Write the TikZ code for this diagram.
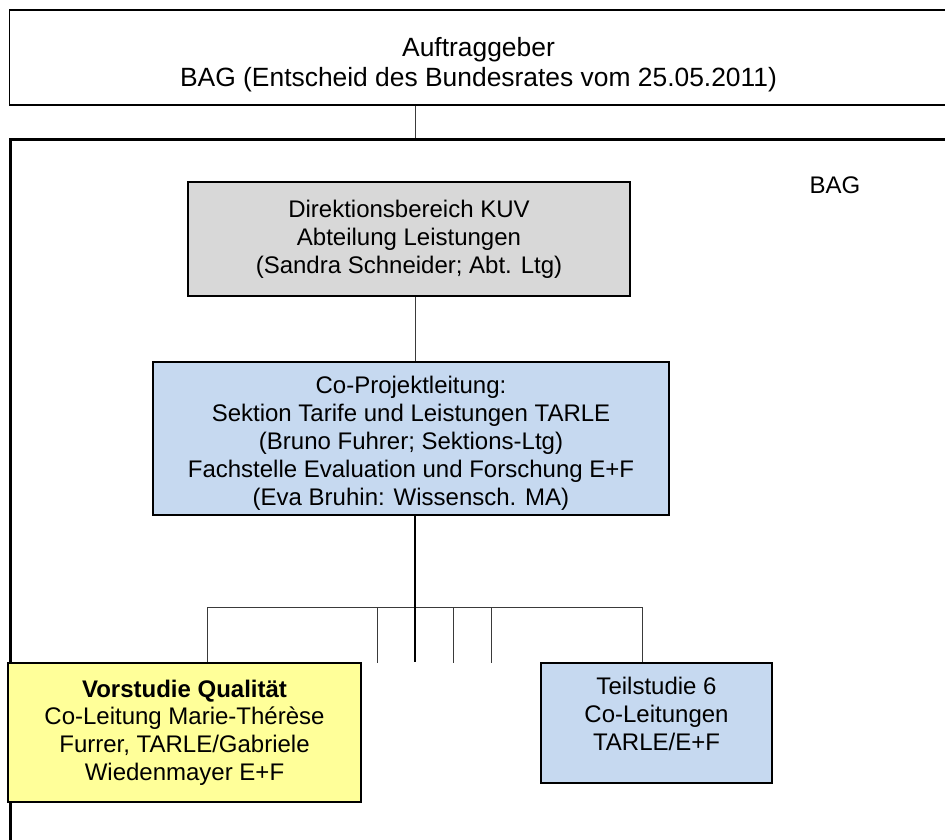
\documentclass[tikz,border=0pt]{standalone}
\usepackage{fontspec}
\setmainfont{Liberation Sans}
\usepackage{tikz}
\usetikzlibrary{calc}

\definecolor{grau}{HTML}{D8D8D8}
\definecolor{hellblau}{HTML}{C6D9F0}
\definecolor{gelb}{HTML}{FFFF99}
\definecolor{linie}{HTML}{3A3A3A}

\tikzset{
  kasten/.style={draw, line width=1pt, align=center, inner sep=0pt,
    font=\fontsize{12}{13.9}\selectfont},
  link/.style={draw=linie, line width=0.5pt},
  trunk/.style={draw=black, line width=1.1pt}
}

\begin{document}
\begin{tikzpicture}[x=0.5pt, y=-0.5pt]
        \useasboundingbox (0,0) rectangle (945,839);
        \clip (0,0) rectangle (945,839);
        % Rahmen
        \node[draw, line width=0.9pt, minimum width=469pt, minimum height=47.5pt,
              align=center, inner sep=0pt, font=\fontsize{13.2}{15}\selectfont]
              (auftrag) at (478.5,57.5)
              {\rule{0pt}{16.5pt}Auftraggeber\\BAG (Entscheid des Bundesrates vom 25.05.2011)};
        \node[draw, line width=1.3pt, minimum width=470.5pt, minimum height=361pt,
              anchor=north west, inner sep=0pt] (bag) at (9,138) {};
        \node[font=\fontsize{12}{14}\selectfont] (baglabel) at (835,185) {BAG};
        % Kaesten
        \node[kasten, fill=grau, minimum width=221pt, minimum height=57pt]
              (abteilung) at (409,239)
              {Direktionsbereich KUV\\Abteilung Leistungen\\(Sandra Schneider; Abt. Ltg)};
        \node[kasten, fill=hellblau, minimum width=258pt, minimum height=76.5pt]
              (projekt) at (411,438)
              {\rule{0pt}{14pt}Co-Projektleitung:\\Sektion Tarife und Leistungen TARLE\\(Bruno Fuhrer; Sektions-Ltg)\\
               Fachstelle Evaluation und Forschung E+F\\(Eva Bruhin: Wissensch. MA)};
        \node[kasten, fill=gelb, minimum width=176.5pt, minimum height=69.5pt]
              (vorstudie) at (184.5,732.5)
              {\textbf{Vorstudie Qualität}\\Co-Leitung Marie-Thérèse\\Furrer, TARLE/Gabriele\\Wiedenmayer E+F};
        \node[kasten, fill=hellblau, minimum width=115.5pt, minimum height=60pt]
              (teilstudie) at (656.5,723)
              {Teilstudie 6\\Co-Leitungen\\TARLE/E+F\rule[-9pt]{0pt}{9pt}};
        % Verbindungen
        \coordinate (achse) at (415,0);
        \coordinate (busL) at (207,607);
        \coordinate (busR) at (642,607);
        \draw[link] (achse |- auftrag.south) -- (achse |- bag.north);
        \draw[link] (achse |- abteilung.south) -- (achse |- projekt.north);
        \draw[link] (busL |- vorstudie.north) -- (busL) -- (busR) -- (busR |- teilstudie.north);
        \foreach \x in {377,453,491}
            \draw[link] (\x,607) -- (\x,663);
        \draw[trunk] (achse |- projekt.south) -- (achse |- vorstudie.north);
    \end{tikzpicture}
\end{document}
